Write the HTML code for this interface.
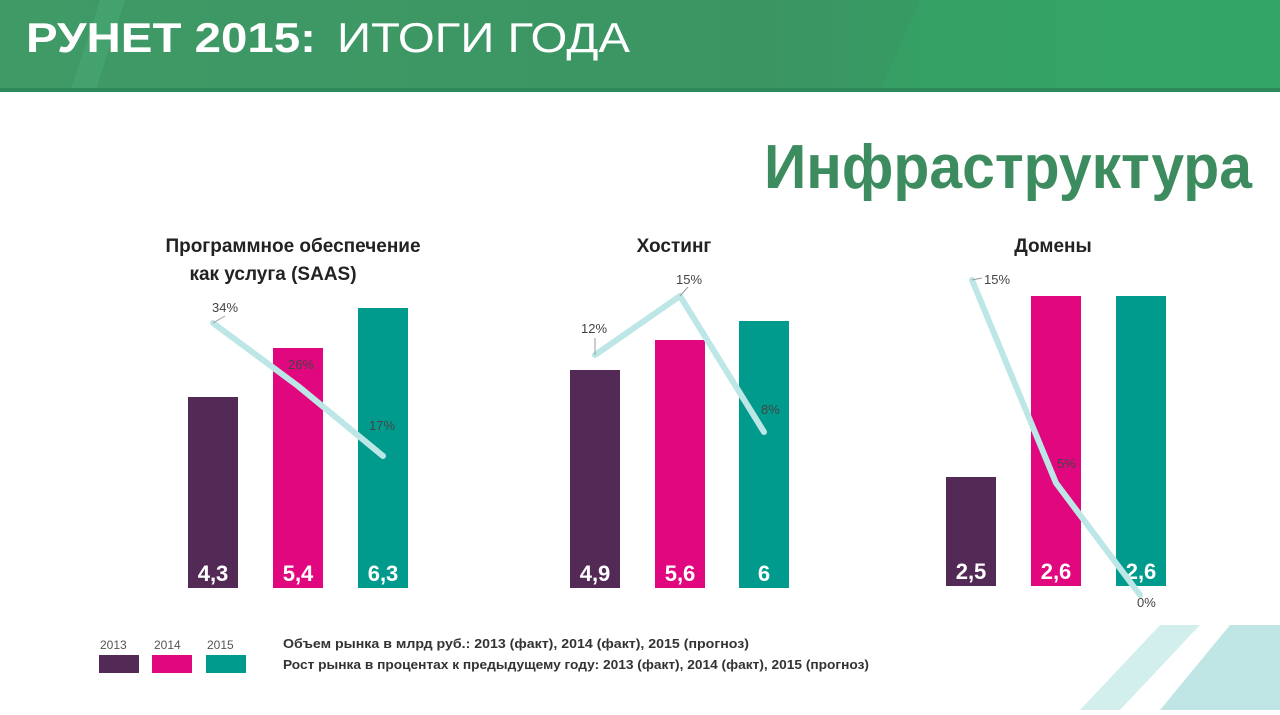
<!DOCTYPE html><html><head><meta charset="utf-8"><style>body{margin:0;width:1280px;height:710px;overflow:hidden;background:#fff;font-family:"Liberation Sans",sans-serif}</style></head><body>
<svg width="1280" height="710" viewBox="0 0 1280 710" xmlns="http://www.w3.org/2000/svg" font-family="Liberation Sans, sans-serif">
<defs><linearGradient id="h" x1="0" x2="1"><stop offset="0" stop-color="#3f9a66"/><stop offset="0.6" stop-color="#3b9563"/><stop offset="1" stop-color="#2ea862"/></linearGradient></defs>
<rect x="0" y="0" width="1280" height="92" fill="url(#h)"/>
<polygon points="70,92 100,0 125,0 95,92" fill="#4aa874" opacity="0.6"/>
<polygon points="880,92 920,0 1280,0 1280,92" fill="#35a565" opacity="0.6"/>
<rect x="0" y="88" width="1280" height="4" fill="#2e8a5a"/>
<text x="26" y="52" font-size="42" font-weight="bold" fill="#fff" textLength="290" lengthAdjust="spacingAndGlyphs">РУНЕТ 2015:</text>
<text x="337" y="52" font-size="42" fill="#fff" textLength="293" lengthAdjust="spacingAndGlyphs">ИТОГИ ГОДА</text>
<text x="1252" y="188" font-size="62" font-weight="bold" fill="#3d8c5f" text-anchor="end" textLength="488" lengthAdjust="spacingAndGlyphs">Инфраструктура</text>
<polygon points="1160,710 1230,625 1280,625 1280,710" fill="#bfe6e4"/>
<polygon points="1080,710 1160,625 1200,625 1120,710" fill="#d3efed"/>
<g font-size="19" font-weight="bold" fill="#222" text-anchor="middle">
<text x="293" y="252">Программное обеспечение</text><text x="273" y="280">как услуга (SAAS)</text>
<text x="674" y="252">Хостинг</text><text x="1053" y="252">Домены</text></g>
<g>
<rect x="188" y="397" width="50" height="191" fill="#532a56"/><rect x="273" y="348" width="50" height="240" fill="#e0077f"/><rect x="358" y="308" width="50" height="280" fill="#009b8c"/>
<rect x="570" y="370" width="50" height="218" fill="#532a56"/><rect x="655" y="340" width="50" height="248" fill="#e0077f"/><rect x="739" y="321" width="50" height="267" fill="#009b8c"/>
<rect x="946" y="477" width="50" height="109" fill="#532a56"/><rect x="1031" y="296" width="50" height="290" fill="#e0077f"/><rect x="1116" y="296" width="50" height="290" fill="#009b8c"/>
</g>
<g font-size="22" font-weight="bold" fill="#fff" text-anchor="middle">
<text x="213" y="581">4,3</text><text x="298" y="581">5,4</text><text x="383" y="581">6,3</text>
<text x="595" y="581">4,9</text><text x="680" y="581">5,6</text><text x="764" y="581">6</text>
<text x="971" y="579">2,5</text><text x="1056" y="579">2,6</text><text x="1141" y="579">2,6</text></g>
<g fill="none" stroke="#bde6e6" stroke-width="6" stroke-linecap="round" stroke-linejoin="round">
<polyline points="213,323 298,386 383,456"/><polyline points="595,355 680,296 764,432"/><polyline points="972,280 1056,483 1140,595"/></g>
<g stroke="#999" stroke-width="1"><line x1="213" y1="323" x2="225" y2="316"/><line x1="595" y1="355" x2="595" y2="338"/><line x1="680" y1="296" x2="688" y2="287"/><line x1="972" y1="280" x2="982" y2="278"/></g>
<g font-size="13" fill="#444">
<text x="212" y="312">34%</text><text x="288" y="369">26%</text><text x="369" y="430">17%</text>
<text x="581" y="333">12%</text><text x="676" y="284">15%</text><text x="761" y="414">8%</text>
<text x="984" y="284">15%</text><text x="1057" y="468">5%</text><text x="1137" y="607">0%</text></g>
<g font-size="12" fill="#555"><text x="100" y="649">2013</text><text x="154" y="649">2014</text><text x="207" y="649">2015</text></g>
<rect x="99" y="655" width="40" height="18" fill="#532a56"/><rect x="152" y="655" width="40" height="18" fill="#e0077f"/><rect x="206" y="655" width="40" height="18" fill="#009b8c"/>
<g font-size="13" font-weight="bold" fill="#333"><text x="283" y="648" textLength="466" lengthAdjust="spacingAndGlyphs">Объем рынка в млрд руб.: 2013 (факт), 2014 (факт), 2015 (прогноз)</text>
<text x="283" y="669" textLength="586" lengthAdjust="spacingAndGlyphs">Рост рынка в процентах к предыдущему году: 2013 (факт), 2014 (факт), 2015 (прогноз)</text></g>
</svg></body></html>
